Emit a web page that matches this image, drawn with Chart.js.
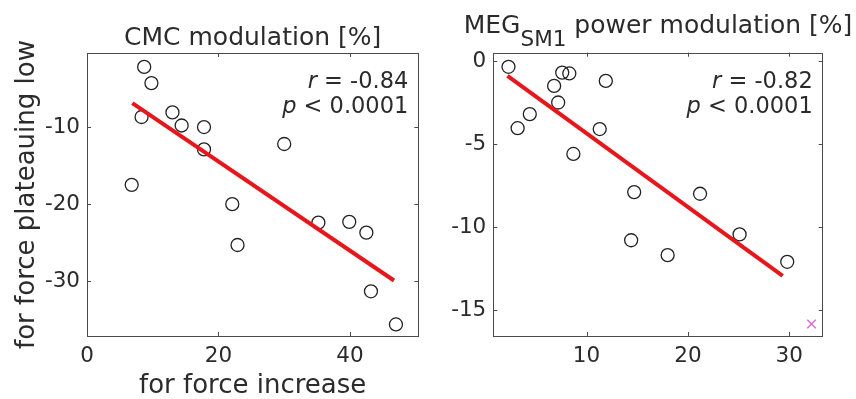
<!DOCTYPE html>
<html>
<head>
<meta charset="utf-8">
<script src="https://cdn.jsdelivr.net/npm/chart.js@4"></script>
<style>
html, body { margin: 0; padding: 0; background: #fff; }
#wrap { position: relative; width: 856px; height: 399px; }
#cmcChart { position: absolute; left: 0; top: 0; }
#megChart { position: absolute; left: 430px; top: 0; }
</style>
</head>
<body>
<div id="wrap">
  <canvas id="cmcChart" width="430" height="399"></canvas>
  <canvas id="megChart" width="426" height="399"></canvas>
</div>
<script>
// CMC modulation: force increase (x) vs force plateauing low (y)
const cmcIncrease = [6.8, 8.7, 9.8, 8.3, 13.0, 14.4, 17.8, 17.8, 22.1, 22.9, 30.0, 35.2, 39.9, 42.5, 43.2, 47.0];
const cmcPlateau = [-17.5, -2.2, -4.3, -8.7, -8.1, -9.8, -10.0, -12.9, -20.0, -25.3, -12.2, -22.4, -22.3, -23.7, -31.3, -35.6];
const cmcFitX = [6.9, 46.7];
const cmcFitY = [-6.9, -29.9];

// MEG SM1 power modulation
const megIncrease = [2.3, 3.2, 4.4, 6.8, 7.2, 7.6, 8.3, 8.7, 11.3, 11.9, 14.4, 14.7, 18.0, 21.2, 25.1, 29.8];
const megPlateau = [-0.35, -4.05, -3.2, -1.5, -2.5, -0.7, -0.75, -5.6, -4.1, -1.2, -10.8, -7.9, -11.7, -8.0, -10.45, -12.1];
const megFitX = [2.2, 29.35];
const megFitY = [-0.9, -12.95];
const megOutlierX = [32.2];
const megOutlierY = [-15.85];

const cmcTicksX = [0, 20, 40];
const cmcTicksY = [-30, -20, -10];
const megTicksX = [10, 20, 30];
const megTicksY = [-15, -10, -5, 0];

const textColor = '#2b2b2b';
const fontName = "'DejaVu Sans', sans-serif";

function points(xs, ys) {
  return xs.map((x, i) => ({ x: x, y: ys[i] }));
}

// box, inward ticks, title and r/p text
const frame = {
  id: 'frame',
  afterDraw(chart, args, opts) {
    const { ctx, chartArea: a, scales: { x, y } } = chart;
    ctx.save();
    ctx.strokeStyle = '#4a4a4a';
    ctx.lineWidth = 1;
    ctx.strokeRect(Math.round(a.left) + 0.5, Math.round(a.top) + 0.5,
      Math.round(a.right - a.left), Math.round(a.bottom - a.top));
    ctx.beginPath();
    x.ticks.forEach(t => {
      const px = Math.round(x.getPixelForValue(t.value)) + 0.5;
      ctx.moveTo(px, a.bottom); ctx.lineTo(px, a.bottom - 4);
      ctx.moveTo(px, a.top); ctx.lineTo(px, a.top + 4);
    });
    y.ticks.forEach(t => {
      const py = Math.round(y.getPixelForValue(t.value)) + 0.5;
      ctx.moveTo(a.left, py); ctx.lineTo(a.left + 4, py);
      ctx.moveTo(a.right, py); ctx.lineTo(a.right - 4, py);
    });
    ctx.stroke();

    ctx.fillStyle = textColor;
    ctx.textBaseline = 'alphabetic';
    ctx.textAlign = 'left';

    // title
    const cx = (a.left + a.right) / 2;
    const mainFont = '25px ' + fontName;
    const subFont = '21.5px ' + fontName;
    ctx.font = mainFont;
    const w1 = ctx.measureText(opts.title[0]).width;
    const w3 = ctx.measureText(opts.title[2]).width;
    ctx.font = subFont;
    const w2 = opts.title[1] ? ctx.measureText(opts.title[1]).width : 0;
    let tx = cx - (w1 + w2 + w3) / 2;
    ctx.font = mainFont;
    ctx.fillText(opts.title[0], tx, opts.titleY);
    tx += w1;
    if (opts.title[1]) {
      ctx.font = subFont;
      ctx.fillText(opts.title[1], tx, opts.titleY + 13);
      tx += w2;
    }
    ctx.font = mainFont;
    ctx.fillText(opts.title[2], tx, opts.titleY);

    // statistics
    const right = a.right - 10;
    opts.stats.forEach((line, i) => {
      const by = 88 + i * 25;
      ctx.font = '22.5px ' + fontName;
      const wRest = ctx.measureText(line[1]).width;
      ctx.font = 'italic 22.5px ' + fontName;
      const wVar = ctx.measureText(line[0]).width;
      ctx.fillText(line[0], right - wRest - wVar, by);
      ctx.font = '22.5px ' + fontName;
      ctx.fillText(line[1], right - wRest, by);
    });
    ctx.restore();
  }
};

function makeScales(xr, yr, xTicks, yTicks, yWidth, yTitle, xTitle) {
  return {
    x: {
      type: 'linear',
      min: xr[0], max: xr[1],
      afterFit: s => { s.height = 63; },
      afterBuildTicks: s => { s.ticks = xTicks.map(v => ({ value: v })); },
      grid: { display: false, drawTicks: false },
      border: { display: false },
      ticks: { color: textColor, padding: 8, font: { family: fontName, size: 21.5 } },
      title: {
        display: !!xTitle, text: xTitle || '', color: textColor,
        font: { family: fontName, size: 26, lineHeight: 1 },
        padding: { top: 0, bottom: 0 }
      }
    },
    y: {
      type: 'linear',
      min: yr[0], max: yr[1],
      afterFit: s => { s.width = yWidth; },
      afterBuildTicks: s => { s.ticks = yTicks.map(v => ({ value: v })); },
      grid: { display: false, drawTicks: false },
      border: { display: false },
      ticks: { color: textColor, padding: 7, font: { family: fontName, size: 21.5 } },
      title: {
        display: !!yTitle, text: yTitle || '', color: textColor,
        font: { family: fontName, size: 26, lineHeight: 1 },
        padding: { top: 14, bottom: 0 }
      }
    }
  };
}

const circleStyle = {
  pointStyle: 'circle',
  pointRadius: 6.5,
  pointBorderWidth: 1.3,
  pointBorderColor: '#222',
  pointBackgroundColor: 'rgba(0,0,0,0)',
  showLine: false,
  order: 2
};
const fitStyle = {
  showLine: true,
  borderColor: '#e8161b',
  borderWidth: 4,
  pointRadius: 0,
  order: 1
};

new Chart(document.getElementById('cmcChart'), {
  type: 'scatter',
  data: {
    datasets: [
      Object.assign({ data: points(cmcIncrease, cmcPlateau) }, circleStyle),
      Object.assign({ data: points(cmcFitX, cmcFitY) }, fitStyle)
    ]
  },
  options: {
    responsive: false,
    animation: false,
    devicePixelRatio: 1,
    events: [],
    layout: { padding: { top: 53, left: 0, right: 11.7, bottom: 0 } },
    scales: makeScales([0, 50.4], [-37.1, -0.4], cmcTicksX, cmcTicksY, 87,
      'for force plateauing low', 'for force increase'),
    plugins: {
      legend: { display: false },
      tooltip: { enabled: false },
      frame: {
        title: ['CMC modulation [%]', '', ''],
        titleY: 45,
        stats: [['r', ' = -0.84'], ['p', ' < 0.0001']]
      }
    }
  },
  plugins: [frame]
});

new Chart(document.getElementById('megChart'), {
  type: 'scatter',
  data: {
    datasets: [
      Object.assign({ data: points(megIncrease, megPlateau) }, circleStyle),
      Object.assign({ data: points(megFitX, megFitY) }, fitStyle),
      {
        data: points(megOutlierX, megOutlierY),
        pointStyle: 'crossRot',
        pointRadius: 6,
        pointBorderWidth: 1.5,
        pointBorderColor: '#d36fd3',
        showLine: false,
        order: 3
      }
    ]
  },
  options: {
    responsive: false,
    animation: false,
    devicePixelRatio: 1,
    events: [],
    layout: { padding: { top: 52.7, left: 0, right: 33.3, bottom: 0 } },
    scales: makeScales([0.8, 33.3], [-16.57, 0.5], megTicksX, megTicksY, 63.3, '', ''),
    plugins: {
      legend: { display: false },
      tooltip: { enabled: false },
      frame: {
        title: ['MEG', 'SM1', ' power modulation [%]'],
        titleY: 33,
        stats: [['r', ' = -0.82'], ['p', ' < 0.0001']]
      }
    }
  },
  plugins: [frame]
});
</script>
</body>
</html>
